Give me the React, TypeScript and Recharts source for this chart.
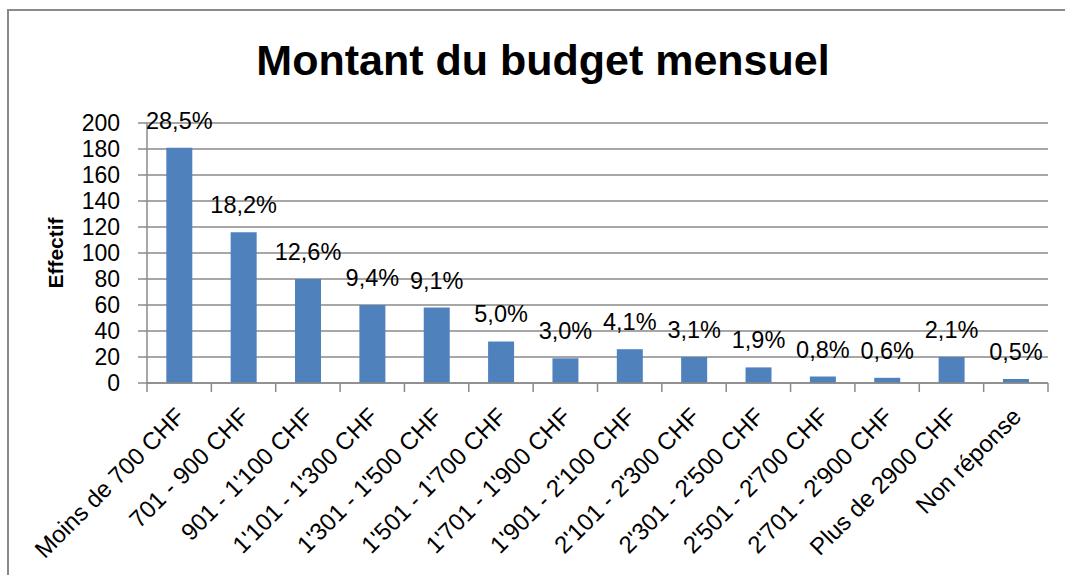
import React from 'react';
import { BarChart, Bar, XAxis, YAxis, CartesianGrid, LabelList } from 'recharts';

const categories = [
  'Moins de 700 CHF',
  '701 - 900 CHF',
  "901 - 1'100 CHF",
  "1'101 - 1'300 CHF",
  "1'301 - 1'500 CHF",
  "1'501 - 1'700 CHF",
  "1'701 - 1'900 CHF",
  "1'901 - 2'100 CHF",
  "2'101 - 2'300 CHF",
  "2'301 - 2'500 CHF",
  "2'501 - 2'700 CHF",
  "2'701 - 2'900 CHF",
  'Plus de 2900 CHF',
  'Non réponse',
];
const effectif = [181, 116, 80, 60, 58, 32, 19, 26, 20, 12, 5, 4, 20, 3];
const percentLabels = ['28,5%', '18,2%', '12,6%', '9,4%', '9,1%', '5,0%', '3,0%', '4,1%', '3,1%', '1,9%', '0,8%', '0,6%', '2,1%', '0,5%'];
const yTicks = [0, 20, 40, 60, 80, 100, 120, 140, 160, 180, 200];

const title = 'Montant du budget mensuel';
const yTitle = 'Effectif';

const data = categories.map((c, i) => ({ cat: c, value: effectif[i], pct: percentLabels[i] }));

const FONT = '"Liberation Sans", Arial, sans-serif';
const GRID = '#8a8a8a';

const XTick = (props: any) => {
  const { x, y, payload, index, width } = props;
  const off = payload && payload.offset != null ? payload.offset : width / categories.length / 2;
  const ax = x + 7;
  const ay = y + 35;
  const i = payload?.index ?? index;
  return (
    <g>
      <line x1={x - off} y1={y} x2={x - off} y2={y + 9} stroke={GRID} strokeWidth={1.5} />
      {i === categories.length - 1 && (
        <line x1={x + off} y1={y} x2={x + off} y2={y + 9} stroke={GRID} strokeWidth={1.5} />
      )}
      <text
        x={ax}
        y={ay}
        textAnchor="end"
        transform={`rotate(-45, ${ax}, ${ay})`}
        fontSize={24}
        fontFamily={FONT}
        fill="#000"
      >
        {payload.value}
      </text>
    </g>
  );
};

export default function App() {
  return (
    <div style={{ position: 'fixed', left: 0, top: 0, width: 1065, height: 575, overflow: 'hidden', background: '#fff' }}>
      <div
        style={{
          position: 'absolute',
          left: 7,
          top: 9,
          width: 1070,
          height: 580,
          borderLeft: `2px solid ${GRID}`,
          borderTop: `2px solid ${GRID}`,
          boxSizing: 'border-box',
        }}
      />
      <div style={{ position: 'absolute', left: 0, top: 0 }}>
        <BarChart
          width={1065}
          height={575}
          data={data}
          margin={{ top: 123, right: 17, left: 87, bottom: 0 }}
          barCategoryGap="30%"
        >
          <CartesianGrid vertical={false} stroke={GRID} strokeWidth={1.5} />
          <XAxis
            dataKey="cat"
            interval={0}
            height={192}
            tickLine={false}
            tickSize={0}
            tickMargin={0}
            axisLine={{ stroke: GRID, strokeWidth: 1.5 }}
            tick={<XTick />}
          />
          <YAxis
            width={60}
            domain={[0, 200]}
            ticks={yTicks}
            interval={0}
            tickSize={9}
            tickMargin={18}
            axisLine={{ stroke: GRID, strokeWidth: 1.5 }}
            tickLine={{ stroke: GRID, strokeWidth: 1.5 }}
            tick={{ fontSize: 23, fontFamily: FONT, fill: '#000' }}
          />
          <Bar dataKey="value" fill="#4F81BD" isAnimationActive={false}>
            <LabelList dataKey="pct" position="top" offset={19} fontSize={23.5} fontFamily={FONT} fill="#000" />
          </Bar>
        </BarChart>
      </div>
      <svg width={1065} height={575} style={{ position: 'absolute', left: 0, top: 0, pointerEvents: 'none' }}>
        <text x={543} y={75} textAnchor="middle" fontSize={43} fontWeight="bold" fontFamily={FONT} fill="#000">
          {title}
        </text>
        <text
          x={0}
          y={0}
          transform="translate(63, 253) rotate(-90)"
          textAnchor="middle"
          fontSize={21}
          fontWeight="bold"
          fontFamily={FONT}
          fill="#000"
        >
          {yTitle}
        </text>
      </svg>
    </div>
  );
}
